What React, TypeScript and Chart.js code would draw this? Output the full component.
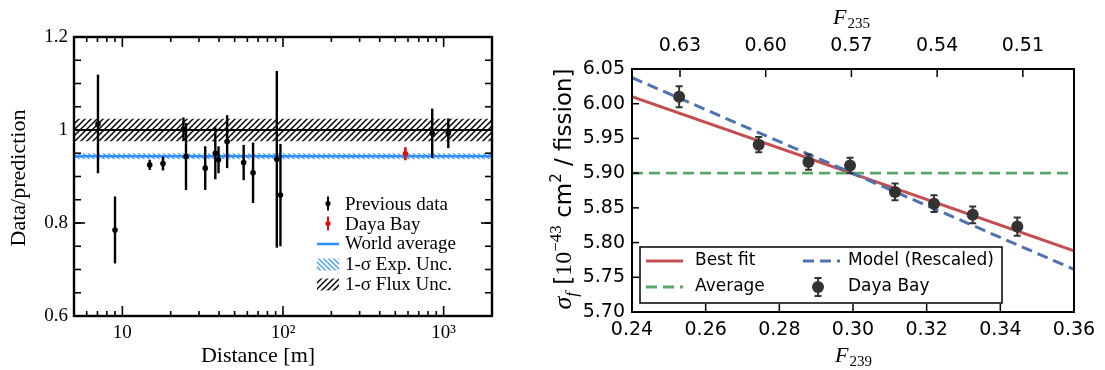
import React, { useEffect, useRef } from "react";
import { Chart, registerables } from "chart.js";

Chart.register(...registerables);

// ---- Left panel: measured / predicted rate versus baseline ----
const baselines = [7.05, 9.0, 14.8, 17.9, 24.0, 24.9, 32.8, 37.9, 39.7, 44.9, 56.9, 65.1, 91.5, 96.4, 849, 1069];
const ratios = [1.013, 0.785, 0.925, 0.928, 1.002, 0.943, 0.918, 0.95, 0.936, 0.975, 0.93, 0.908, 0.937, 0.86, 0.993, 0.993];
const ratioErrors = [0.106, 0.072, 0.011, 0.015, 0.025, 0.072, 0.047, 0.056, 0.029, 0.057, 0.038, 0.065, 0.19, 0.11, 0.053, 0.032];
const dayaBayBaseline = [578];
const dayaBayRatio = [0.949];
const dayaBayError = [0.014];
const worldAverage = [0.9435, 0.9435];
const worldAverageUnc = [0.0065, 0.0065];
const fluxCentral = [1.0, 1.0];
const fluxUnc = [0.024, 0.024];
const distanceSpan = [5, 2000];
const ratioSpan = [0.6, 1.2];
const distanceTicks = [10, 100, 1000];
const distanceTickLabels = ["10", "10²", "10³"];
const ratioTicks = [0.6, 0.8, 1.0, 1.2];
const ratioTickLabels = ["0.6", "0.8", "1", "1.2"];

// ---- Right panel: IBD yield versus Pu-239 fission fraction ----
const f239 = [0.2528, 0.2744, 0.2879, 0.2992, 0.3114, 0.322, 0.3325, 0.3446];
const sigmaF = [6.01, 5.941, 5.916, 5.911, 5.873, 5.856, 5.84, 5.823];
const sigmaErr = [0.015, 0.011, 0.011, 0.011, 0.012, 0.012, 0.012, 0.013];
const lineF239 = [0.24, 0.36];
const bestFit = [6.01, 5.788];
const modelRescaled = [6.0375, 5.7614];
const averageSigma = [5.9, 5.9];
const f239Span = [0.24, 0.36];
const f235Span = [0.4921, 0.6468];
const sigmaSpan = [5.7, 6.05];
const f239Ticks = [0.24, 0.26, 0.28, 0.3, 0.32, 0.34, 0.36];
const f235Ticks = [0.63, 0.6, 0.57, 0.54, 0.51];
const sigmaTicks = [5.7, 5.75, 5.8, 5.85, 5.9, 5.95, 6.0, 6.05];

const SERIF = '"Liberation Serif", "Times New Roman", serif';
const SANS = '"DejaVu Sans", sans-serif';

function makeHatch(ctx: CanvasRenderingContext2D, color: string, forward: boolean, size: number, lw: number) {
  const tile = document.createElement("canvas");
  tile.width = size;
  tile.height = size;
  const g = tile.getContext("2d")!;
  g.strokeStyle = color;
  g.lineWidth = lw;
  g.beginPath();
  if (forward) {
    g.moveTo(0, size); g.lineTo(size, 0);
    g.moveTo(-size / 2, size / 2); g.lineTo(size / 2, -size / 2);
    g.moveTo(size / 2, size * 1.5); g.lineTo(size * 1.5, size / 2);
  } else {
    g.moveTo(0, 0); g.lineTo(size, size);
    g.moveTo(-size / 2, size / 2); g.lineTo(size / 2, size * 1.5);
    g.moveTo(size / 2, -size / 2); g.lineTo(size * 1.5, size / 2);
  }
  g.stroke();
  return ctx.createPattern(tile, "repeat")!;
}

// vertical error bars for datasets carrying an errorValues array
const errorBars = {
  id: "errorBars",
  beforeDatasetDraw(chart: any, args: any) {
    const ds = chart.data.datasets[args.index];
    if (!ds.errorValues) return;
    const ctx: CanvasRenderingContext2D = chart.ctx;
    const xs = chart.scales[args.meta.xAxisID];
    const ys = chart.scales[args.meta.yAxisID];
    const a = chart.chartArea;
    ctx.save();
    ctx.beginPath();
    ctx.rect(a.left, a.top, a.right - a.left, a.bottom - a.top);
    ctx.clip();
    ctx.strokeStyle = ds.errorColor;
    ctx.lineWidth = ds.errorWidth;
    ds.data.forEach((p: any, i: number) => {
      const e = ds.errorValues[i];
      const x = xs.getPixelForValue(p.x);
      const yt = ys.getPixelForValue(p.y + e);
      const yb = ys.getPixelForValue(p.y - e);
      ctx.beginPath();
      ctx.moveTo(x, yt);
      ctx.lineTo(x, yb);
      if (ds.capHalf) {
        ctx.moveTo(x - ds.capHalf, yt); ctx.lineTo(x + ds.capHalf, yt);
        ctx.moveTo(x - ds.capHalf, yb); ctx.lineTo(x + ds.capHalf, yb);
      }
      ctx.stroke();
    });
    ctx.restore();
  },
};

function line(ctx: CanvasRenderingContext2D, x1: number, y1: number, x2: number, y2: number) {
  ctx.beginPath();
  ctx.moveTo(x1, y1);
  ctx.lineTo(x2, y2);
  ctx.stroke();
}

function sized(w: number | null, h: number | null) {
  return (s: any) => {
    if (w !== null) s.width = w;
    if (h !== null) s.height = h;
  };
}

const App = () => {
  const leftRef = useRef<HTMLCanvasElement>(null);
  const rightRef = useRef<HTMLCanvasElement>(null);

  useEffect(() => {
    const lc = leftRef.current!;
    const rc = rightRef.current!;
    const lctx = lc.getContext("2d")!;
    const blueHatch = makeHatch(lctx, "#3d9dff", false, 5, 1.3);
    const blackHatch = makeHatch(lctx, "#000000", true, 6, 1.5);

    const xy = (xs: number[], ys: number[]) => xs.map((x, i) => ({ x, y: ys[i] }));
    const offset = (ys: number[], ds: number[], sgn: number) => ys.map((y, i) => y + sgn * ds[i]);

    // minor tick positions on the log distance axis
    const logMinor: number[] = [];
    for (let dec = 1; dec <= 1000; dec *= 10) {
      for (let k = 1; k <= 9; k++) {
        const v = k * dec;
        if (v >= distanceSpan[0] && v <= distanceSpan[1] && k !== 1) logMinor.push(v);
      }
    }
    const ratioMinor: number[] = [];
    for (let v = 0.6; v <= 1.2001; v += 0.05) ratioMinor.push(v);

    const leftFrame = {
      id: "leftFrame",
      afterDatasetsDraw(chart: any) {
        const ctx: CanvasRenderingContext2D = chart.ctx;
        const a = chart.chartArea;
        const xs = chart.scales.x;
        const ys = chart.scales.y;
        ctx.save();
        ctx.strokeStyle = "#000";
        ctx.lineWidth = 1.6;
        logMinor.forEach((v) => {
          const px = xs.getPixelForValue(v);
          line(ctx, px, a.bottom, px, a.bottom - 5);
          line(ctx, px, a.top, px, a.top + 5);
        });
        distanceTicks.forEach((v) => {
          const px = xs.getPixelForValue(v);
          line(ctx, px, a.bottom, px, a.bottom - 10);
          line(ctx, px, a.top, px, a.top + 10);
        });
        ratioMinor.forEach((v) => {
          const py = ys.getPixelForValue(v);
          line(ctx, a.left, py, a.left + 7, py);
          line(ctx, a.right, py, a.right - 7, py);
        });
        ratioTicks.forEach((v) => {
          const py = ys.getPixelForValue(v);
          line(ctx, a.left, py, a.left + 11, py);
          line(ctx, a.right, py, a.right - 11, py);
        });
        ctx.lineWidth = 2.4;
        ctx.strokeRect(a.left, a.top, a.right - a.left, a.bottom - a.top);
        ctx.restore();
      },
      afterDraw(chart: any) {
        const ctx: CanvasRenderingContext2D = chart.ctx;
        ctx.save();
        ctx.fillStyle = "#000";
        ctx.font = `22px ${SERIF}`;
        ctx.textAlign = "center";
        ctx.textBaseline = "alphabetic";
        ctx.fillText("Distance [m]", 258, 362);
        ctx.save();
        ctx.translate(25, 178);
        ctx.rotate(-Math.PI / 2);
        ctx.fillText("Data/prediction", 0, 0);
        ctx.restore();

        // legend
        ctx.textAlign = "left";
        ctx.font = `19px ${SERIF}`;
        const tx = 345;
        const mx = 328;
        const rows = [209.5, 229.5, 249, 269.5, 289.5];
        // previous data
        ctx.strokeStyle = "#000";
        ctx.lineWidth = 2;
        line(ctx, mx, rows[0] - 13, mx, rows[0] + 1);
        ctx.beginPath(); ctx.arc(mx, rows[0] - 6, 2.6, 0, Math.PI * 2); ctx.fill();
        ctx.fillText("Previous data", tx, rows[0]);
        // Daya Bay
        ctx.strokeStyle = "#dd1111";
        ctx.fillStyle = "#dd1111";
        line(ctx, mx, rows[1] - 13, mx, rows[1] + 1);
        ctx.beginPath(); ctx.arc(mx, rows[1] - 6, 2.6, 0, Math.PI * 2); ctx.fill();
        ctx.fillStyle = "#000";
        ctx.fillText("Daya Bay", tx, rows[1]);
        // world average
        ctx.strokeStyle = "#2b8fff";
        ctx.lineWidth = 2.5;
        line(ctx, 317, rows[2] - 5, 339, rows[2] - 5);
        ctx.fillText("World average", tx, rows[2]);
        ctx.fillStyle = blueHatch;
        ctx.fillRect(317, rows[3] - 11, 22, 12);
        ctx.fillStyle = blackHatch;
        ctx.fillRect(317, rows[4] - 11, 22, 12);
        ctx.fillStyle = "#000";
        ctx.fillText("1-σ Exp. Unc.", tx, rows[3]);
        ctx.fillText("1-σ Flux Unc.", tx, rows[4]);
        ctx.restore();
      },
    };

    const bandLine = (ys: number[], color: string, width: number, order: number) => ({
      type: "line" as const,
      data: xy(distanceSpan, ys),
      borderColor: color,
      borderWidth: width,
      pointRadius: 0,
      fill: false,
      order,
    });

    const left = new Chart(lc, {
      type: "scatter",
      data: {
        datasets: [
          {
            data: xy(baselines, ratios),
            backgroundColor: "#000",
            borderWidth: 0,
            pointRadius: 2.8,
            order: 0,
            errorValues: ratioErrors,
            errorColor: "#000",
            errorWidth: 2.4,
          } as any,
          {
            data: xy(dayaBayBaseline, dayaBayRatio),
            backgroundColor: "#dd1111",
            borderWidth: 0,
            pointRadius: 2.8,
            order: 0,
            errorValues: dayaBayError,
            errorColor: "#dd1111",
            errorWidth: 2.6,
          } as any,
          bandLine(worldAverage, "#2b8fff", 2.5, 1),
          { ...bandLine(offset(worldAverage, worldAverageUnc, 1), "rgba(0,0,0,0)", 0, 2), fill: "+1", backgroundColor: blueHatch } as any,
          bandLine(offset(worldAverage, worldAverageUnc, -1), "rgba(0,0,0,0)", 0, 2),
          bandLine(fluxCentral, "#000", 2, 3),
          { ...bandLine(offset(fluxCentral, fluxUnc, 1), "rgba(0,0,0,0)", 0, 4), fill: "+1", backgroundColor: blackHatch } as any,
          bandLine(offset(fluxCentral, fluxUnc, -1), "rgba(0,0,0,0)", 0, 4),
        ],
      },
      options: {
        responsive: false,
        animation: false,
        devicePixelRatio: 1,
        layout: { padding: 0 },
        plugins: { legend: { display: false }, tooltip: { enabled: false } },
        scales: {
          x: {
            type: "logarithmic",
            position: "bottom",
            min: distanceSpan[0],
            max: distanceSpan[1],
            grid: { display: false, drawTicks: false },
            border: { display: false },
            afterBuildTicks: (s: any) => { s.ticks = distanceTicks.map((value) => ({ value })); },
            ticks: {
              autoSkip: false,
              maxRotation: 0,
              padding: 6,
              color: "#000",
              font: { family: SERIF, size: 19 },
              callback: (_v: any, i: number) => distanceTickLabels[i],
            },
            afterFit: sized(null, 54),
          },
          xTop: {
            type: "logarithmic",
            position: "top",
            min: distanceSpan[0],
            max: distanceSpan[1],
            grid: { display: false, drawTicks: false },
            border: { display: false },
            ticks: { display: false },
            afterFit: sized(null, 37),
          },
          y: {
            type: "linear",
            position: "left",
            min: ratioSpan[0],
            max: ratioSpan[1],
            grid: { display: false, drawTicks: false },
            border: { display: false },
            afterBuildTicks: (s: any) => { s.ticks = ratioTicks.map((value) => ({ value })); },
            ticks: {
              padding: 6,
              color: "#000",
              font: { family: SERIF, size: 19 },
              callback: (_v: any, i: number) => ratioTickLabels[i],
            },
            afterFit: sized(74, null),
          },
          yRight: {
            type: "linear",
            position: "right",
            min: ratioSpan[0],
            max: ratioSpan[1],
            grid: { display: false, drawTicks: false },
            border: { display: false },
            ticks: { display: false },
            afterFit: sized(28, null),
          },
        },
      } as any,
      plugins: [errorBars, leftFrame],
    });

    const rightFrame = {
      id: "rightFrame",
      afterDatasetsDraw(chart: any) {
        const ctx: CanvasRenderingContext2D = chart.ctx;
        const a = chart.chartArea;
        ctx.save();
        ctx.strokeStyle = "#000";
        ctx.lineWidth = 1.5;
        f239Ticks.forEach((v) => {
          const px = chart.scales.x.getPixelForValue(v);
          line(ctx, px, a.bottom, px, a.bottom - 8);
        });
        f235Ticks.forEach((v) => {
          const px = chart.scales.xTop.getPixelForValue(v);
          line(ctx, px, a.top, px, a.top + 8);
        });
        sigmaTicks.forEach((v) => {
          const py = chart.scales.y.getPixelForValue(v);
          line(ctx, a.left, py, a.left + 7, py);
        });
        ctx.lineWidth = 2;
        ctx.strokeRect(a.left, a.top, a.right - a.left, a.bottom - a.top);
        ctx.restore();
      },
      afterDraw(chart: any) {
        const ctx: CanvasRenderingContext2D = chart.ctx;
        ctx.save();
        ctx.fillStyle = "#000";
        ctx.textBaseline = "alphabetic";
        ctx.textAlign = "left";
        // F235 / F239 axis titles
        const fLabel = (x: number, y: number, sub: string) => {
          ctx.font = `italic 22px ${SERIF}`;
          ctx.fillText("F", x, y);
          const w = ctx.measureText("F").width;
          ctx.font = `15px ${SERIF}`;
          ctx.fillText(sub, x + w + 1, y + 4);
        };
        fLabel(313, 24, "235");
        fLabel(315, 362, "239");

        // rotated y title
        const pieces = [
          { t: "σ", f: `italic 26px ${SERIF}`, dy: 0 },
          { t: "f", f: `italic 17px ${SERIF}`, dy: 6 },
          { t: " [", f: `23px ${SANS}`, dy: 0 },
          { t: "10", f: `24px ${SERIF}`, dy: 0 },
          { t: "−43", f: `17px ${SERIF}`, dy: -10 },
          { t: " cm", f: `23px ${SANS}`, dy: 0 },
          { t: "2", f: `15px ${SANS}`, dy: -10 },
          { t: " / fission]", f: `23px ${SANS}`, dy: 0 },
        ];
        let total = 0;
        const widths = pieces.map((p) => {
          ctx.font = p.f;
          const w = ctx.measureText(p.t).width;
          total += w;
          return w;
        });
        ctx.save();
        ctx.translate(43, 189);
        ctx.rotate(-Math.PI / 2);
        let cx = -total / 2;
        pieces.forEach((p, i) => {
          ctx.font = p.f;
          ctx.fillText(p.t, cx, 8 + p.dy);
          cx += widths[i];
        });
        ctx.restore();

        // legend box
        const bx = 120, by = 247, bw = 362, bh = 56;
        ctx.fillStyle = "#fff";
        ctx.fillRect(bx, by, bw, bh);
        ctx.strokeStyle = "#000";
        ctx.lineWidth = 1.5;
        ctx.strokeRect(bx, by, bw, bh);
        const r1 = 261, r2 = 287;
        ctx.lineWidth = 3;
        ctx.strokeStyle = "#c44e52";
        line(ctx, 126, r1, 163, r1);
        ctx.setLineDash([11, 6]);
        ctx.strokeStyle = "#55a868";
        line(ctx, 126, r2, 163, r2);
        ctx.strokeStyle = "#4c72b0";
        line(ctx, 283, r1, 320, r1);
        ctx.setLineDash([]);
        ctx.strokeStyle = "#333";
        ctx.lineWidth = 2;
        line(ctx, 298, r2 - 9, 298, r2 + 9);
        line(ctx, 294.5, r2 - 9, 301.5, r2 - 9);
        line(ctx, 294.5, r2 + 9, 301.5, r2 + 9);
        ctx.fillStyle = "#333";
        ctx.beginPath(); ctx.arc(298, r2, 6, 0, Math.PI * 2); ctx.fill();
        ctx.fillStyle = "#000";
        ctx.font = `17px ${SANS}`;
        ctx.textBaseline = "middle";
        ctx.fillText("Best fit", 175, r1);
        ctx.fillText("Average", 175, r2);
        ctx.fillText("Model (Rescaled)", 328, r1);
        ctx.fillText("Daya Bay", 328, r2);
        ctx.restore();
      },
    };

    const fitLine = (ys: number[], color: string, dash: number[], width: number, order: number) => ({
      type: "line" as const,
      data: xy(lineF239, ys),
      borderColor: color,
      borderWidth: width,
      borderDash: dash,
      pointRadius: 0,
      fill: false,
      order,
    });

    const right = new Chart(rc, {
      type: "scatter",
      data: {
        datasets: [
          {
            data: xy(f239, sigmaF),
            backgroundColor: "#333",
            borderWidth: 0,
            pointRadius: 6,
            order: 0,
            errorValues: sigmaErr,
            errorColor: "#333",
            errorWidth: 2,
            capHalf: 3.5,
          } as any,
          fitLine(modelRescaled, "#4c72b0", [11, 6], 3, 1),
          fitLine(averageSigma, "#55a868", [11, 6], 2.6, 2),
          fitLine(bestFit, "#c44e52", [], 3, 3),
        ],
      },
      options: {
        responsive: false,
        animation: false,
        devicePixelRatio: 1,
        layout: { padding: { right: 31 } },
        plugins: { legend: { display: false }, tooltip: { enabled: false } },
        scales: {
          x: {
            type: "linear",
            position: "bottom",
            min: f239Span[0],
            max: f239Span[1],
            grid: { display: false, drawTicks: false },
            border: { display: false },
            afterBuildTicks: (s: any) => { s.ticks = f239Ticks.map((value) => ({ value })); },
            ticks: {
              autoSkip: false,
              maxRotation: 0,
              padding: 7,
              color: "#000",
              font: { family: SANS, size: 19 },
              callback: (v: any) => Number(v).toFixed(2),
            },
            afterFit: sized(null, 58),
          },
          xTop: {
            type: "linear",
            position: "top",
            min: f235Span[0],
            max: f235Span[1],
            reverse: true,
            grid: { display: false, drawTicks: false },
            border: { display: false },
            afterBuildTicks: (s: any) => { s.ticks = f235Ticks.map((value) => ({ value })); },
            ticks: {
              autoSkip: false,
              maxRotation: 0,
              padding: 12,
              color: "#000",
              font: { family: SANS, size: 19 },
              callback: (v: any) => Number(v).toFixed(2),
            },
            afterFit: sized(null, 69),
          },
          y: {
            type: "linear",
            position: "left",
            min: sigmaSpan[0],
            max: sigmaSpan[1],
            grid: { display: false, drawTicks: false },
            border: { display: false },
            afterBuildTicks: (s: any) => { s.ticks = sigmaTicks.map((value) => ({ value })); },
            ticks: {
              padding: 7,
              color: "#000",
              font: { family: SANS, size: 19 },
              callback: (v: any) => Number(v).toFixed(2),
            },
            afterFit: sized(112, null),
          },
        },
      } as any,
      plugins: [errorBars, rightFrame],
    });

    return () => {
      left.destroy();
      right.destroy();
    };
  }, []);

  return (
    <div style={{ position: "absolute", left: 0, top: 0, width: 1105, height: 370, background: "#fff" }}>
      <canvas ref={leftRef} width={520} height={370} style={{ position: "absolute", left: 0, top: 0 }} />
      <canvas ref={rightRef} width={585} height={370} style={{ position: "absolute", left: 520, top: 0 }} />
    </div>
  );
};

export default App;
